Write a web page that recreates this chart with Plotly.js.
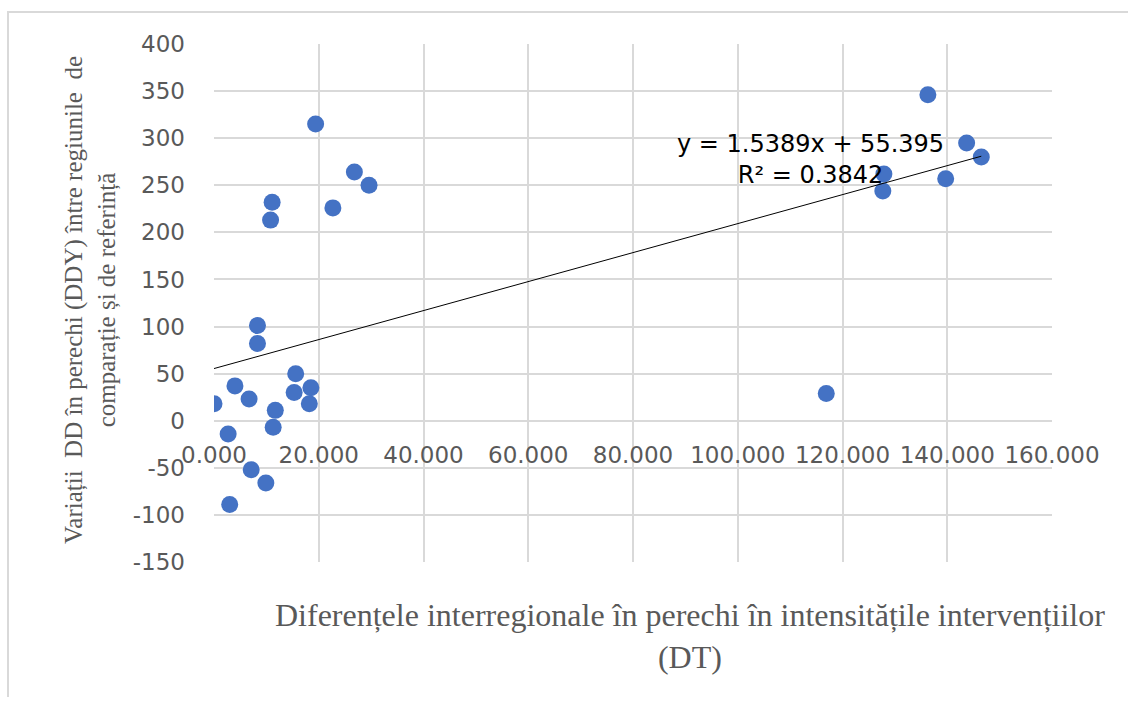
<!DOCTYPE html>
<html>
<head>
<meta charset="utf-8">
<script src="https://cdn.plot.ly/plotly-3.0.1.min.js"></script>
<style>
  html, body { margin: 0; padding: 0; background: #ffffff; }
  #chart { width: 1128px; height: 701px; position: absolute; left: 0; top: 0; }
  #frame { position: absolute; left: 7px; top: 11px; width: 1300px; height: 684px;
           border-left: 2px solid #d9d9d9; border-top: 2px solid #d9d9d9; pointer-events: none; }
</style>
</head>
<body>
<div id="chart"></div>
<div id="frame"></div>
<script>
// Data
const dtValues = [0.0, 4.0, 6.7, 8.3, 8.3, 2.7, 7.1, 9.9, 3.0, 11.7, 11.3, 15.6, 15.3, 18.5, 18.2,
                  19.4, 26.8, 29.6, 22.7, 11.1, 10.8,
                  136.3, 143.7, 146.5, 139.7, 127.9, 127.7, 116.9];
const ddyValues = [18, 37, 23, 101, 82, -14, -52, -66, -89, 11, -7, 50, 30, 35, 18,
                   315, 264, 250, 226, 232, 213,
                   346, 295, 280, 257, 262, 244, 29];
const trendSlope = 1.5389;
const trendIntercept = 55.395;
const trendR2 = 0.3842;
const xTickVals = [0, 20, 40, 60, 80, 100, 120, 140, 160];
const xTickText = ["0.000", "20.000", "40.000", "60.000", "80.000", "100.000", "120.000", "140.000", "160.000"];
const yTickVals = [-150, -100, -50, 0, 50, 100, 150, 200, 250, 300, 350, 400];
const yTickText = ["-150", "-100", "-50", "0", "50", "100", "150", "200", "250", "300", "350", "400"];
const xTitle = "Diferențele interregionale în perechi în intensitățile intervențiilor<br>(DT)";
const yTitle = "Variații  DD în perechi (DDY) între regiunile  de<br>comparație și de referință";

const xMin = Math.min(...dtValues), xMax = Math.max(...dtValues);
const trendX = [xMin, xMax];
const trendY = trendX.map(v => trendSlope * v + trendIntercept);

const traces = [
  {
    type: 'scatter', mode: 'markers', x: dtValues, y: ddyValues,
    marker: { color: '#4472C4', size: 17 }, showlegend: false, hoverinfo: 'x+y'
  },
  {
    type: 'scatter', mode: 'lines', x: trendX, y: trendY,
    line: { color: '#000000', width: 1 }, showlegend: false, hoverinfo: 'skip'
  }
];

const tickFont = { family: 'DejaVu Sans, Verdana, sans-serif', size: 23, color: '#595959' };

const layout = {
  width: 1128, height: 701,
  margin: { l: 214, r: 76, t: 44, b: 139 },
  paper_bgcolor: '#ffffff', plot_bgcolor: '#ffffff',
  xaxis: {
    range: [0, 160], tickvals: xTickVals, ticktext: xTickText,
    showgrid: true, gridcolor: '#d9d9d9', gridwidth: 2,
    zeroline: false, showline: false, ticks: '',
    anchor: 'free', position: 150 / 550,
    ticklabelstandoff: 18,
    tickfont: tickFont
  },
  yaxis: {
    range: [-150, 400], tickvals: yTickVals, ticktext: yTickText,
    showgrid: true, gridcolor: '#d9d9d9', gridwidth: 2,
    zeroline: true, zerolinecolor: '#d9d9d9', zerolinewidth: 2,
    showline: false, ticks: '',
    ticklabelstandoff: 28,
    tickfont: tickFont
  },
  annotations: [
    {
      xref: 'x', yref: 'y', x: 113.9, y: 277, showarrow: false,
      text: 'y = ' + trendSlope.toFixed(4) + 'x + ' + trendIntercept.toFixed(3) + '<br>R² = ' + trendR2.toFixed(4),
      font: { family: 'DejaVu Sans, Verdana, sans-serif', size: 24, color: '#000000' },
      align: 'center', xanchor: 'center', yanchor: 'middle'
    },
    {
      xref: 'paper', yref: 'paper', x: (690 - 214) / 838, y: (562 - 636) / 518,
      showarrow: false, text: xTitle,
      font: { family: 'Liberation Serif, Times New Roman, serif', size: 32, color: '#595959' },
      align: 'center', xanchor: 'center', yanchor: 'middle'
    },
    {
      xref: 'paper', yref: 'paper', x: (90 - 214) / 838, y: (562 - 300) / 518,
      showarrow: false, text: yTitle, textangle: -90,
      font: { family: 'Liberation Serif, Times New Roman, serif', size: 25, color: '#595959' },
      align: 'center', xanchor: 'center', yanchor: 'middle'
    }
  ]
};

Plotly.newPlot('chart', traces, layout, { displayModeBar: false, staticPlot: true });
</script>
</body>
</html>
